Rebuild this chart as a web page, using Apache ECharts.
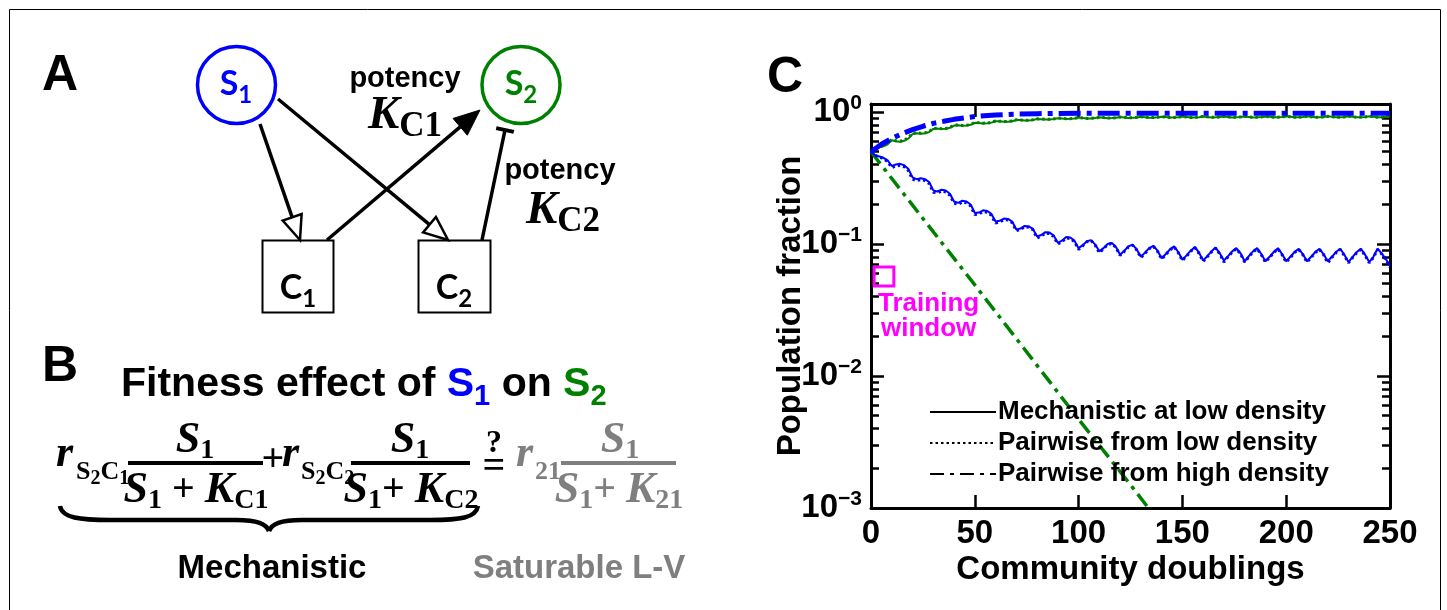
<!DOCTYPE html>
<html><head><meta charset="utf-8">
<script src="https://cdn.jsdelivr.net/npm/echarts@6/dist/echarts.min.js"></script>
<style>html,body{margin:0;padding:0;background:#fff}#c{width:1447px;height:610px}</style>
</head><body><div id="c"></div>
<script>
// ---------------- DATA ----------------
const doublings = [0,2,4,6,8,10,12,14,16,18,20,22,24,26,28,30,32,34,36,38,40,42,44,46,48,50,52,54,56,58,60,62,64,66,68,70,72,74,76,78,80,82,84,86,88,90,92,94,96,98,100,102,104,106,108,110,112,114,116,118,120,122,124,126,128,130,132,134,136,138,140,142,144,146,148,150,152,154,156,158,160,162,164,166,168,170,172,174,176,178,180,182,184,186,188,190,192,194,196,198,200,202,204,206,208,210,212,214,216,218,220,222,224,226,228,230,232,234,236,238,240,242,244,246,248,250];

const s1Mechanistic = [0.50,0.47,0.46,0.45,0.43,0.39,
0.40,0.405,0.395,0.37,0.32,
0.31,0.315,0.31,0.295,0.255,
0.25,0.258,0.254,0.24,0.21,
0.205,0.213,0.21,0.199,0.172,
0.173,0.18,0.178,0.169,0.148,
0.15,0.156,0.155,0.148,0.129,
0.131,0.137,0.136,0.13,0.114,
0.117,0.123,0.122,0.116,0.102,
0.106,0.113,0.112,0.106,0.093,
0.098,0.105,0.107,0.099,0.088,
0.093,0.1,0.102,0.095,0.083,
0.089,0.096,0.099,0.091,0.08,
0.086,0.093,0.097,0.089,0.078,
0.084,0.091,0.096,0.087,0.076,
0.082,0.089,0.095,0.086,0.075,
0.081,0.088,0.094,0.085,0.075,
0.081,0.088,0.093,0.085,0.074,
0.081,0.088,0.093,0.084,0.074,
0.08,0.087,0.093,0.084,0.074,
0.08,0.087,0.092,0.084,0.074,
0.08,0.087,0.092,0.084,0.074,
0.08,0.087,0.092,0.083,0.073,
0.08,0.087,0.092,0.083,0.073,
0.08,0.092,0.085,0.077,0.068];

const s1PairwiseLow = [0.50,0.47,0.455,0.445,0.42,0.38,
0.39,0.395,0.385,0.36,0.31,
0.302,0.308,0.302,0.287,0.247,
0.244,0.252,0.248,0.234,0.204,
0.2,0.208,0.205,0.194,0.167,
0.169,0.176,0.174,0.165,0.144,
0.147,0.153,0.152,0.145,0.126,
0.129,0.135,0.134,0.128,0.111,
0.115,0.121,0.12,0.114,0.1,
0.104,0.111,0.11,0.104,0.091,
0.097,0.104,0.106,0.098,0.086,
0.092,0.099,0.101,0.094,0.082,
0.088,0.095,0.098,0.09,0.079,
0.085,0.092,0.096,0.088,0.077,
0.083,0.09,0.095,0.086,0.075,
0.081,0.088,0.094,0.085,0.074,
0.08,0.087,0.093,0.084,0.073,
0.08,0.087,0.092,0.084,0.073,
0.08,0.087,0.092,0.083,0.073,
0.079,0.086,0.092,0.083,0.073,
0.079,0.086,0.091,0.083,0.073,
0.079,0.086,0.091,0.083,0.072,
0.079,0.086,0.091,0.082,0.072,
0.079,0.086,0.091,0.082,0.072,
0.079,0.091,0.084,0.076,0.067];

const s2Mechanistic = [0.50,0.53,0.54,0.55,0.57,0.61,
0.60,0.595,0.605,0.63,0.68,
0.69,0.685,0.69,0.705,0.745,
0.75,0.742,0.746,0.76,0.79,
0.795,0.787,0.79,0.80,0.828,
0.827,0.82,0.822,0.831,0.852,
0.85,0.844,0.845,0.852,0.871,
0.869,0.863,0.864,0.87,0.886,
0.883,0.877,0.878,0.884,0.898,
0.894,0.887,0.888,0.894,0.907,
0.9,0.892,0.893,0.899,0.911,
0.906,0.898,0.899,0.904,0.916,
0.91,0.902,0.903,0.908,0.919,
0.913,0.905,0.906,0.911,0.922,
0.915,0.907,0.908,0.913,0.924,
0.917,0.909,0.91,0.914,0.925,
0.918,0.91,0.911,0.915,0.926,
0.918,0.91,0.911,0.916,0.926,
0.918,0.91,0.911,0.916,0.926,
0.919,0.911,0.912,0.916,0.927,
0.919,0.911,0.912,0.916,0.927,
0.919,0.911,0.912,0.917,0.927,
0.919,0.911,0.912,0.917,0.927,
0.92,0.912,0.912,0.917,0.927,
0.92,0.912,0.913,0.922,0.932];

const s2PairwiseLow = [0.50,0.535,0.545,0.555,0.58,0.62,
0.605,0.60,0.61,0.64,0.69,
0.695,0.69,0.695,0.712,0.75,
0.754,0.746,0.75,0.765,0.795,
0.797,0.79,0.793,0.804,0.832,
0.83,0.823,0.825,0.834,0.855,
0.852,0.846,0.847,0.854,0.873,
0.871,0.865,0.866,0.872,0.888,
0.885,0.879,0.88,0.886,0.9,
0.896,0.889,0.89,0.896,0.909,
0.902,0.894,0.895,0.901,0.913,
0.907,0.9,0.901,0.906,0.918,
0.911,0.904,0.905,0.91,0.921,
0.914,0.907,0.908,0.913,0.924,
0.916,0.909,0.91,0.915,0.925,
0.918,0.91,0.911,0.916,0.927,
0.919,0.911,0.912,0.917,0.928,
0.919,0.911,0.912,0.917,0.928,
0.919,0.912,0.913,0.917,0.928,
0.92,0.912,0.913,0.918,0.928,
0.92,0.912,0.913,0.918,0.928,
0.92,0.912,0.913,0.918,0.929,
0.92,0.913,0.913,0.918,0.929,
0.921,0.913,0.914,0.918,0.929,
0.921,0.913,0.914,0.923,0.934];

const s1HighDoublings = [0,5,10,15,20,25,30,35,40,50,60,70,80,100,125,150,175,200,225,250];
const s1PairwiseHigh = [0.5,0.57,0.63,0.685,0.735,0.78,0.82,0.85,0.88,0.925,0.95,0.965,0.972,0.977,0.977,0.977,0.977,0.977,0.977,0.977];

const s2HighDoublings = [0,25,50,75,100,125,140];
const s2PairwiseHigh = [0.5,0.156,0.049,0.0152,0.0047,0.0015,0.00074];

const xTicks = [0,50,100,150,200,250];
const yMajorTicks = [0.001,0.01,0.1,1];
const yMajorExponents = ['−3','−2','−1','0'];
const yMinorTicks = [0.002,0.003,0.004,0.005,0.006,0.007,0.008,0.009,0.02,0.03,0.04,0.05,0.06,0.07,0.08,0.09,0.2,0.3,0.4,0.5,0.6,0.7,0.8,0.9];
const trainingX = [1.5, 11];
const trainingY = [0.048, 0.067];
const legendNames = ['Mechanistic at low density','Pairwise from low density','Pairwise from high density'];

// ---------------- STYLE ----------------
const BLUE = '#0000ff', GREEN = '#008000', GRAY = '#7f7f7f', MAG = '#ff00ff';
const SANS = '"Liberation Sans", Arial, sans-serif';
const SERIF = '"Liberation Serif", "Times New Roman", serif';
const NODE = 'Lato, "Liberation Sans", sans-serif';
const Y_MIN = 0.001, Y_MAX = 1.15;

function zip(xs, ys){ return xs.map((x,i)=>[x, ys[i]]); }

// ---------- diagram helpers ----------
const G = [];
function line(x1,y1,x2,y2,w,c){ G.push({type:'line', silent:true, z:10, shape:{x1,y1,x2,y2}, style:{stroke:c||'#000', lineWidth:w||3.5, lineCap:'butt'}}); }
function bez(x1,y1,cpx1,cpy1,cpx2,cpy2,x2,y2,w){ G.push({type:'bezierCurve', silent:true, z:10, shape:{x1,y1,cpx1,cpy1,cpx2,cpy2,x2,y2}, style:{fill:null, stroke:'#000', lineWidth:w}}); }
function arrow(x1,y1,x2,y2,open){
  const dx=x2-x1, dy=y2-y1, L=Math.hypot(dx,dy), ux=dx/L, uy=dy/L, px=-uy, py=ux;
  const hl = open?24:26, hw = open?10:11;
  const bx=x2-ux*hl, by=y2-uy*hl;
  line(x1,y1,bx,by,3.5);
  G.push({type:'polygon', silent:true, z:11, shape:{points:[[x2,y2],[bx+px*hw,by+py*hw],[bx-px*hw,by-py*hw]]},
    style:{fill: open?'#fff':'#000', stroke:'#000', lineWidth: open?2.5:1}});
}
function tbar(x1,y1,x2,y2){
  const dx=x2-x1, dy=y2-y1, L=Math.hypot(dx,dy), ux=dx/L, uy=dy/L, px=-uy, py=ux;
  line(x1,y1,x2,y2,3.5);
  line(x2+px*9,y2+py*9,x2-px*9,y2-py*9,4);
}
function text(x,y,t,rich,align,va){
  G.push({type:'text', silent:true, z:12, style:{x, y, text:t, rich, align:align||'center', verticalAlign:va||'middle'}});
}
function ell(cx,cy,c){ G.push({type:'ellipse', silent:true, z:9, shape:{cx,cy,rx:39,ry:38.5}, style:{fill:'#fff', stroke:c, lineWidth:3.5}}); }
function box(x,y,w,h){ G.push({type:'rect', silent:true, z:9, shape:{x,y,width:w,height:h}, style:{fill:'#fff', stroke:'#000', lineWidth:2}}); }

// frame
G.push({type:'rect', silent:true, z:1, shape:{x:9.5,y:9.5,width:1431,height:640}, style:{fill:'none', stroke:'#000', lineWidth:1}});

// panel letters
const letter = {L:{fontSize:50, fontWeight:'bold', fontFamily:SANS, fill:'#000'}};
text(42,76,'{L|A}',letter,'left');
text(42,367,'{L|B}',letter,'left');
text(767,78,'{L|C}',letter,'left');

// panel A
arrow(260,124,300,240,true);
arrow(278,99,448,240,true);
arrow(327,240,480,110,false);
tbar(482,240,505,130);
ell(236.5,85,BLUE); ell(521,85,GREEN);
box(262.5,240.5,71,72); box(418.5,240.5,72,72);
const nodeRich = (c)=>({m:{fontSize:34, fontWeight:'bold', fontFamily:NODE, fill:c}, s:{fontSize:24, fontWeight:'bold', fontFamily:NODE, fill:c, padding:[22,0,0,0]}});
text(236,84,'{m|S}{s|1}',nodeRich(BLUE));
text(521,84,'{m|S}{s|2}',nodeRich(GREEN));
text(298,288,'{m|C}{s|1}',nodeRich('#000'));
text(454,288,'{m|C}{s|2}',nodeRich('#000'));
const potRich = {p:{fontSize:29, fontWeight:'bold', fontFamily:SANS, fill:'#000'}};
const kRich = {k:{fontSize:47, fontWeight:'bold', fontStyle:'italic', fontFamily:SERIF, fill:'#000'}, c:{fontSize:35, fontWeight:'bold', fontFamily:SERIF, fill:'#000', padding:[22,0,0,0]}};
text(405,79,'{p|potency}',potRich);
text(405,116,'{k|K}{c|C1}',kRich);
text(560,171,'{p|potency}',potRich);
text(563,211,'{k|K}{c|C2}',kRich);

// panel B
const titleRich = {
  t:{fontSize:41, fontWeight:'bold', fontFamily:SANS, fill:'#000'},
  b:{fontSize:41, fontWeight:'bold', fontFamily:SANS, fill:BLUE}, bs:{fontSize:29, fontWeight:'bold', fontFamily:SANS, fill:BLUE, padding:[24,0,0,0]},
  g:{fontSize:41, fontWeight:'bold', fontFamily:SANS, fill:GREEN}, gs:{fontSize:29, fontWeight:'bold', fontFamily:SANS, fill:GREEN, padding:[24,0,0,0]}
};
text(121,385,'{t|Fitness effect of }{b|S}{bs|1}{t| on }{g|S}{gs|2}',titleRich,'left');

function fRich(c){ return {
  i:{fontSize:44, fontWeight:'bold', fontStyle:'italic', fontFamily:SERIF, fill:c},
  n:{fontSize:28, fontWeight:'bold', fontFamily:SERIF, fill:c, padding:[20,0,0,0]},
  o:{fontSize:40, fontWeight:'bold', fontFamily:SERIF, fill:c},
  a:{fontSize:26, fontWeight:'bold', fontFamily:SERIF, fill:c},
  b:{fontSize:20, fontWeight:'bold', fontFamily:SERIF, fill:c, padding:[14,0,0,0]}
};}
const FB = fRich('#000'), FG = fRich(GRAY);
// term 1
text(56,455,'{i|r}',FB,'left');
text(76,472,'{a|S}{b|2}{a|C}{b|1}',FB,'left');
text(195,441,'{i|S}{n|1}',FB);
line(128,463,263,463,4);
text(196,491,'{i|S}{n|1}{o| + }{i|K}{n|C1}',FB);
text(273,461,'{o|+}',FB);
// term 2
text(282,455,'{i|r}',FB,'left');
text(301,472,'{a|S}{b|2}{a|C}{b|2}',FB,'left');
text(410,441,'{i|S}{n|1}',FB);
line(351,463,470,463,4);
text(411,491,'{i|S}{n|1}{o|+ }{i|K}{n|C2}',FB);
// ?=
text(494,444,'{a|?}',{a:{fontSize:32, fontWeight:'bold', fontFamily:SERIF, fill:'#000'}});
text(494,468,'{o|=}',FB);
// term 3 (gray)
text(516,455,'{i|r}',FG,'left');
text(535,472,'{a|21}',FG,'left');
text(620,441,'{i|S}{n|1}',FG);
line(561,463,676,463,4,GRAY);
text(619,491,'{i|S}{n|1}{o|+ }{i|K}{n|21}',FG);
// brace
bez(60,506, 62,518, 80,520, 110,520, 4.5);
line(110,520,236,520,4.5);
bez(236,520, 258,520, 266,524, 269,531, 4.5);
bez(269,531, 272,524, 280,520, 302,520, 4.5);
line(302,520,430,520,4.5);
bez(430,520, 460,520, 476,518, 478,506, 4.5);
const lblRich = (c)=>({m:{fontSize:33, fontWeight:'bold', fontFamily:SANS, fill:c}});
text(272,569,'{m|Mechanistic}',lblRich('#000'));
text(579,569,'{m|Saturable L-V}',lblRich(GRAY));

// ---------------- CHART ----------------
const axisLineStyle = {color:'#000', width:3};
const tickLine = {color:'#000', width:2.5};
function majorY(pos, showLabel){
  return {type:'log', logBase:10, min:Y_MIN, max:Y_MAX, position:pos, gridIndex:0,
    axisLine:{show:true, onZero:false, lineStyle:axisLineStyle},
    axisTick:{show:true, inside:true, length:13, lineStyle:tickLine, customValues:yMajorTicks},
    axisLabel:{show:showLabel, customValues:yMajorTicks, margin:9,
      formatter:(v)=>{ const i = yMajorTicks.findIndex(t=>Math.abs(t-v)/t<1e-6); return i<0?'':'{b|10}{s|'+yMajorExponents[i]+'}'; },
      rich:{b:{fontSize:33, fontWeight:'bold', fontFamily:SANS, color:'#000'}, s:{fontSize:21, fontWeight:'bold', fontFamily:SANS, color:'#000', padding:[0,0,17,0]}}},
    splitLine:{show:false}, minorTick:{show:false}};
}
function minorY(pos){
  return {type:'log', logBase:10, min:Y_MIN, max:Y_MAX, position:pos, gridIndex:0,
    axisLine:{show:false, onZero:false}, axisLabel:{show:false}, splitLine:{show:false},
    axisTick:{show:true, inside:true, length:8, lineStyle:tickLine, customValues:yMinorTicks}};
}
const yMain = majorY('left', true);
yMain.name = 'Population fraction';
yMain.nameLocation = 'middle';
yMain.nameGap = 64;
yMain.nameMoveOverlap = false;
yMain.nameRotate = 90;
yMain.nameTextStyle = {fontSize:33, fontWeight:'bold', fontFamily:SANS, color:'#000'};

function xAx(pos, showLabel){
  return {type:'value', min:0, max:250, interval:50, position:pos, gridIndex:0,
    axisLine:{show:true, onZero:false, lineStyle:axisLineStyle},
    axisTick:{show:true, inside:true, length:13, lineStyle:tickLine, customValues:xTicks},
    axisLabel:{show:showLabel, margin:9, fontSize:33, fontWeight:'bold', fontFamily:SANS, color:'#000'},
    splitLine:{show:false}};
}
const xMain = xAx('bottom', true);
xMain.name = 'Community doublings';
xMain.nameLocation = 'middle';
xMain.nameGap = 45;
xMain.nameMoveOverlap = false;
xMain.nameTextStyle = {fontSize:33, fontWeight:'bold', fontFamily:SANS, color:'#000'};

function ser(name, xs, ys, color, width, type, z){
  return {name, type:'line', xAxisIndex:0, yAxisIndex:0, data:zip(xs,ys), symbol:'none', smooth:false, z:z||2,
    lineStyle:{color, width, type, cap:'butt'}, itemStyle:{color}, animation:false, silent:true};
}
const DASHDOT_B = [22,6,5,6], DASHDOT_G = [15,6,4,6], DOT = [2.5,3];

const series = [
  ser('s2 pairwise high', s2HighDoublings, s2PairwiseHigh, GREEN, 3.5, DASHDOT_G, 2),
  ser('s1 mechanistic', doublings, s1Mechanistic, BLUE, 2, 'solid', 3),
  ser('s1 pairwise low', doublings, s1PairwiseLow, BLUE, 3, DOT, 4),
  ser('s2 mechanistic', doublings, s2Mechanistic, GREEN, 2, 'solid', 3),
  ser('s2 pairwise low', doublings, s2PairwiseLow, GREEN, 3, DOT, 4),
  ser('s1 pairwise high', s1HighDoublings, s1PairwiseHigh, BLUE, 5, DASHDOT_B, 5),
  ser(legendNames[0], [], [], '#000', 2.5, 'solid'),
  ser(legendNames[1], [], [], '#000', 3, DOT),
  ser(legendNames[2], [], [], '#000', 3, [14,6,4,6])
];
series[1].markArea = {silent:true, z:6,
  itemStyle:{color:'rgba(0,0,0,0)', borderColor:MAG, borderWidth:3},
  label:{show:true, position:[56,26], align:'center', verticalAlign:'top', formatter:'Training\nwindow',
    color:MAG, fontSize:26, lineHeight:25, fontWeight:'bold', fontFamily:SANS},
  data:[[{coord:[trainingX[0], trainingY[1]]},{coord:[trainingX[1], trainingY[0]]}]]};

const option = {
  backgroundColor:'#fff',
  animation:false,
  grid:{left:871, right:57, top:104, bottom:102, containLabel:false},
  xAxis:[xMain, xAx('top', false)],
  yAxis:[yMain, minorY('left'), majorY('right', false), minorY('right')],
  legend:{data:legendNames, orient:'vertical', left:924, top:394, itemWidth:66, itemHeight:14, itemGap:5,
    selectedMode:false, itemStyle:{opacity:0},
    textStyle:{fontSize:26, fontWeight:'bold', fontFamily:SANS, color:'#000', padding:[0,0,0,-3]}},
  series,
  graphic:{elements:G}
};
const chart = echarts.init(document.getElementById('c'));
chart.setOption(option);
</script>
</body></html>
